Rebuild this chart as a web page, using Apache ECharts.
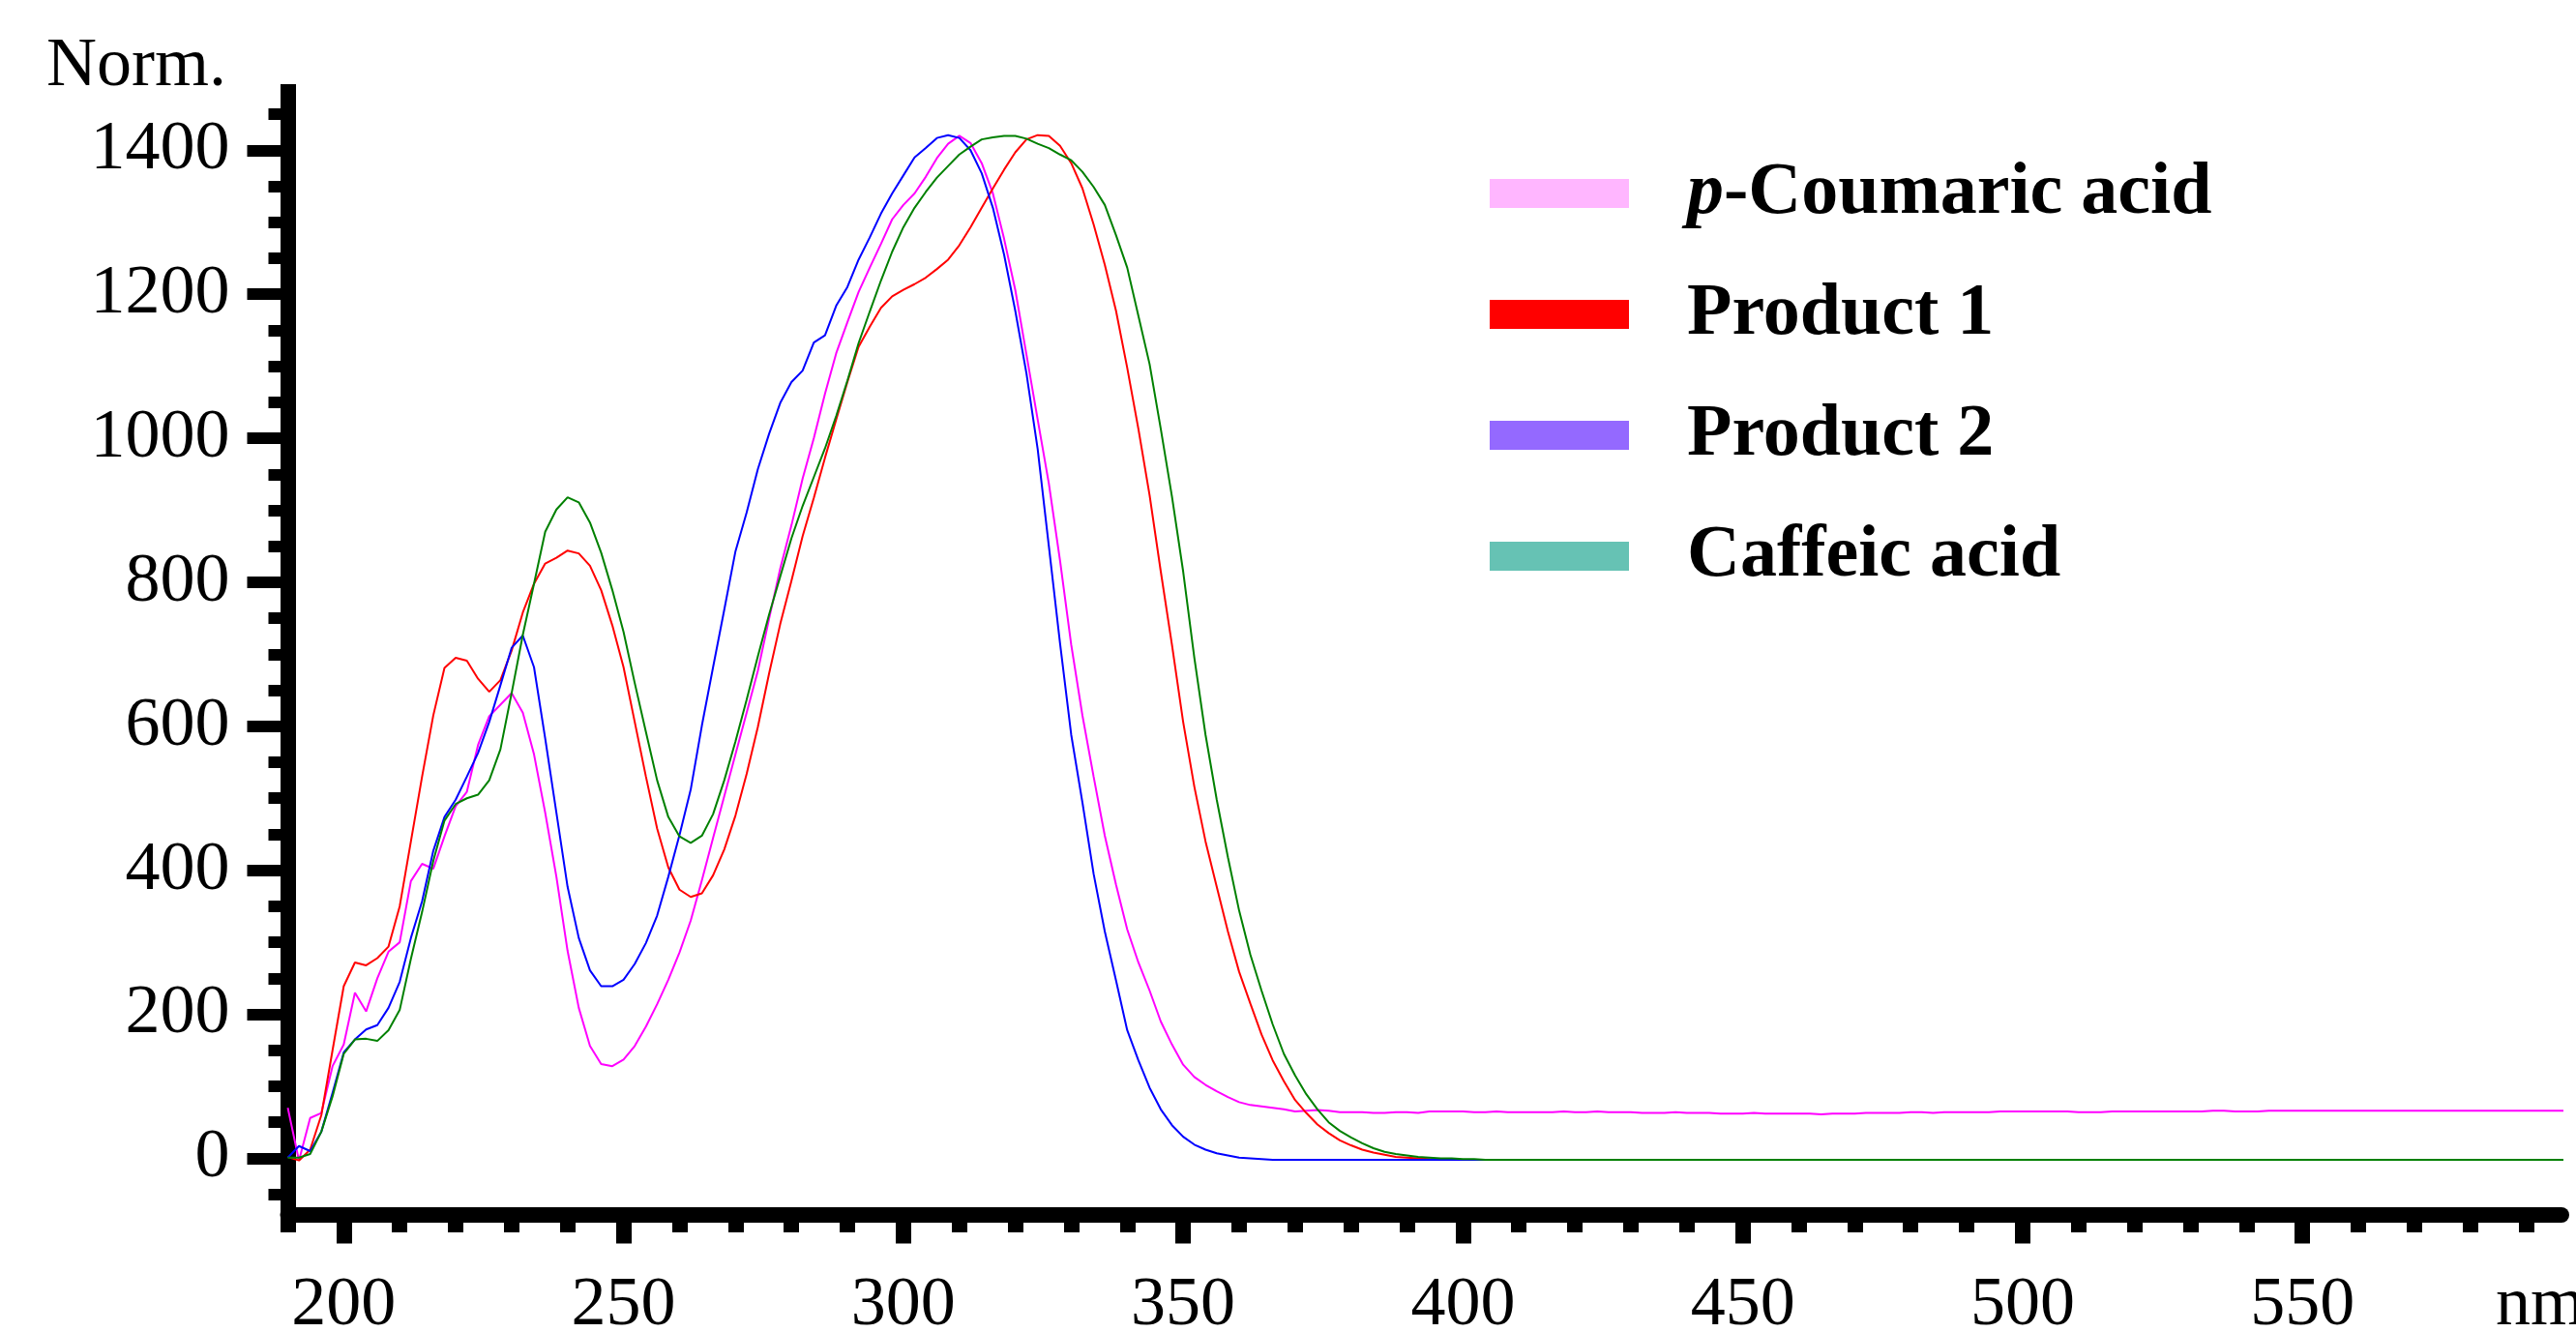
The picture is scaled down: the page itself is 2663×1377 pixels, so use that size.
<!DOCTYPE html>
<html>
<head>
<meta charset="utf-8">
<title>UV spectra</title>
<script src="https://cdn.jsdelivr.net/npm/echarts@6.0.0/dist/echarts.min.js"></script>
<style>
  html, body { margin: 0; padding: 0; background: #fff; }
  #chart { width: 2663px; height: 1377px; }
</style>
</head>
<body>
<div id="chart"></div>
<script>
// wavelength grid, nm (2 nm steps)
const wavelength = [
  190,192,194,196,198,200,202,204,206,208,
  210,212,214,216,218,220,222,224,226,228,
  230,232,234,236,238,240,242,244,246,248,
  250,252,254,256,258,260,262,264,266,268,
  270,272,274,276,278,280,282,284,286,288,
  290,292,294,296,298,300,302,304,306,308,
  310,312,314,316,318,320,322,324,326,328,
  330,332,334,336,338,340,342,344,346,348,
  350,352,354,356,358,360,362,364,366,368,
  370,372,374,376,378,380,382,384,386,388,
  390,392,394,396,398,400,402,404,406,408,
  410,412,414,416,418,420,422,424,426,428,
  430,432,434,436,438,440,442,444,446,448,
  450,452,454,456,458,460,462,464,466,468,
  470,472,474,476,478,480,482,484,486,488,
  490,492,494,496,498,500,502,504,506,508,
  510,512,514,516,518,520,522,524,526,528,
  530,532,534,536,538,540,542,544,546,548,
  550,552,554,556,558,560,562,564,566,568,
  570,572,574,576,578,580,582,584,586,588,
  590,592,594,596,598,600
];

const pCoumaric = [
  70,-3,56,63,128,158,230,204,250,287,
  300,385,409,402,447,489,509,574,614,630,
  646,619,561,480,391,288,209,156,131,128,
  137,156,183,214,248,286,330,386,445,503,
  561,619,677,749,819,879,944,1000,1062,1118,
  1161,1203,1237,1270,1304,1324,1340,1363,1389,1409,
  1420,1410,1382,1340,1277,1206,1116,1026,937,830,
  713,615,530,448,380,318,272,233,190,158,
  130,113,102,93,85,78,74,72,70,68,
  65,66,67,66,64,64,64,63,63,64,
  64,63,65,65,65,65,64,64,65,64,
  64,64,64,64,65,64,64,65,64,64,
  64,63,63,63,64,63,63,63,62,62,
  62,63,62,62,62,62,62,61,62,62,
  62,63,63,63,63,64,64,63,64,64,
  64,64,64,65,65,65,65,65,65,65,
  64,64,64,65,65,65,65,65,65,65,
  65,65,66,66,65,65,65,66,66,66,
  66,66,66,66,66,66,66,66,66,66,
  66,66,66,66,66,66,66,66,66,66,
  66,66,66,66,66,66
];

const product1 = [
  2,-3,12,60,150,239,272,268,278,294,
  350,440,530,615,681,695,691,666,648,664,
  705,758,798,826,834,844,840,823,789,740,
  682,606,530,458,404,373,363,368,393,429,
  476,534,599,673,742,802,864,917,973,1026,
  1078,1127,1155,1181,1197,1206,1214,1223,1235,1248,
  1268,1293,1320,1347,1373,1397,1415,1421,1420,1406,
  1382,1347,1297,1241,1177,1098,1013,921,815,713,
  606,516,440,377,315,259,215,172,136,107,
  81,63,47,35,25,18,12,8,5,2,
  1,0,-1,-1,-2,-2,-2,-2,-2,-2,
  -2,-2,-2,-2,-2,-2,-2,-2,-2,-2,
  -2,-2,-2,-2,-2,-2,-2,-2,-2,-2,
  -2,-2,-2,-2,-2,-2,-2,-2,-2,-2,
  -2,-2,-2,-2,-2,-2,-2,-2,-2,-2,
  -2,-2,-2,-2,-2,-2,-2,-2,-2,-2,
  -2,-2,-2,-2,-2,-2,-2,-2,-2,-2,
  -2,-2,-2,-2,-2,-2,-2,-2,-2,-2,
  -2,-2,-2,-2,-2,-2,-2,-2,-2,-2,
  -2,-2,-2,-2,-2,-2,-2,-2,-2,-2,
  -2,-2,-2,-2,-2,-2
];

const product2 = [
  1,17,10,37,91,147,165,179,185,209,
  245,306,357,427,474,498,530,563,606,657,
  709,726,682,583,480,377,306,261,239,239,
  248,270,299,337,391,449,512,601,682,762,
  843,897,957,1006,1049,1078,1094,1133,1143,1184,
  1210,1248,1279,1312,1340,1365,1390,1403,1417,1421,
  1417,1400,1368,1320,1255,1177,1090,985,850,715,
  588,494,395,315,247,178,136,98,68,46,
  30,19,12,7,4,1,0,-1,-2,-2,
  -2,-2,-2,-2,-2,-2,-2,-2,-2,-2,
  -2,-2,-2,-2,-2,-2,-2,-2,-2,-2,
  -2,-2,-2,-2,-2,-2,-2,-2,-2,-2,
  -2,-2,-2,-2,-2,-2,-2,-2,-2,-2,
  -2,-2,-2,-2,-2,-2,-2,-2,-2,-2,
  -2,-2,-2,-2,-2,-2,-2,-2,-2,-2,
  -2,-2,-2,-2,-2,-2,-2,-2,-2,-2,
  -2,-2,-2,-2,-2,-2,-2,-2,-2,-2,
  -2,-2,-2,-2,-2,-2,-2,-2,-2,-2,
  -2,-2,-2,-2,-2,-2,-2,-2,-2,-2,
  -2,-2,-2,-2,-2,-2,-2,-2,-2,-2,
  -2,-2,-2,-2,-2,-2
];

const caffeic = [
  1,1,6,37,86,145,165,166,163,178,
  206,277,342,413,469,492,500,505,525,568,
  646,727,798,870,901,918,911,883,841,789,
  731,660,592,525,474,447,438,448,478,525,
  579,637,697,755,808,861,906,946,986,1031,
  1080,1132,1176,1219,1259,1293,1320,1342,1362,1378,
  1394,1405,1415,1418,1420,1420,1416,1409,1403,1394,
  1386,1370,1349,1324,1282,1237,1170,1103,1013,919,
  815,695,588,498,418,344,283,233,186,145,
  115,89,68,50,38,29,21,14,9,6,
  4,2,1,0,0,-1,-1,-2,-2,-2,
  -2,-2,-2,-2,-2,-2,-2,-2,-2,-2,
  -2,-2,-2,-2,-2,-2,-2,-2,-2,-2,
  -2,-2,-2,-2,-2,-2,-2,-2,-2,-2,
  -2,-2,-2,-2,-2,-2,-2,-2,-2,-2,
  -2,-2,-2,-2,-2,-2,-2,-2,-2,-2,
  -2,-2,-2,-2,-2,-2,-2,-2,-2,-2,
  -2,-2,-2,-2,-2,-2,-2,-2,-2,-2,
  -2,-2,-2,-2,-2,-2,-2,-2,-2,-2,
  -2,-2,-2,-2,-2,-2,-2,-2,-2,-2,
  -2,-2,-2,-2,-2,-2
];

const xMajorTicks = [200, 250, 300, 350, 400, 450, 500, 550];
const xMinorTicks = [190, 210, 220, 230, 240, 260, 270, 280, 290, 310, 320, 330, 340,
  360, 370, 380, 390, 410, 420, 430, 440, 460, 470, 480, 490, 510, 520, 530, 540,
  560, 570, 580, 590];
const yMajorTicks = [0, 200, 400, 600, 800, 1000, 1200, 1400];
const yMinorTicks = [-50, 50, 100, 150, 250, 300, 350, 450, 500, 550, 650, 700, 750,
  850, 900, 950, 1050, 1100, 1150, 1250, 1300, 1350, 1450];

const seriesNames = ['p-Coumaric acid', 'Product 1', 'Product 2', 'Caffeic acid'];
const seriesValues = [pCoumaric, product1, product2, caffeic];
const lineColors = ['#ff00ff', '#ff0000', '#0000ff', '#008000'];
const legendColors = ['#ffb6ff', '#ff0000', '#9469ff', '#66c2b4'];

const FONT = 'Liberation Serif';
const X_MIN = 190, X_MAX = 596.3, Y_MIN = -78, Y_MAX = 1481;

const chart = echarts.init(document.getElementById('chart'));

const textBase = { fontFamily: FONT, fontSize: 72, color: '#000', fontWeight: 'normal' };
const boldText = { fontFamily: FONT, fontSize: 76, color: '#000', fontWeight: 'bold' };

// plain numbers, no thousands separator
const plainNumber = v => String(v);

const option = {
  animation: false,
  backgroundColor: '#fff',
  title: [
    { text: 'Norm.', left: 48, top: 33, padding: 0, textStyle: textBase },
    { text: 'nm', left: 2580, top: 1314, padding: 0, textStyle: textBase }
  ],
  legend: {
    orient: 'vertical',
    left: 1540,
    top: 162,
    padding: 0,
    itemGap: 49,
    icon: 'rect',
    itemWidth: 144,
    itemHeight: 30,
    selectedMode: false,
    itemStyle: { borderWidth: 0 },
    data: seriesNames.map((n, i) => ({ name: n, itemStyle: { color: legendColors[i] } })),
    formatter: function (name) {
      if (name.indexOf('p-') === 0) {
        return '{gap|}{it|p}{b|' + name.slice(1) + '}';
      }
      return '{gap|}{b|' + name + '}';
    },
    textStyle: {
      rich: {
        gap: { width: 55 },
        it: Object.assign({ fontStyle: 'italic' }, boldText),
        b: boldText
      }
    }
  },
  grid: {
    left: 297.5, right: 15, top: 95, bottom: 121.5,
    containLabel: false,
    outerBoundsMode: 'none'
  },
  xAxis: [
    {
      type: 'value', min: X_MIN, max: X_MAX, position: 'bottom',
      axisLine: { show: true, onZero: false, lineStyle: { color: '#000', width: 16 } },
      axisTick: { show: true, customValues: xMajorTicks, length: 30, lineStyle: { color: '#000', width: 16 } },
      axisLabel: Object.assign({ show: true, customValues: xMajorTicks, margin: 59, formatter: plainNumber }, textBase),
      splitLine: { show: false }
    },
    {
      type: 'value', min: X_MIN, max: X_MAX, position: 'bottom',
      axisLine: { show: false, onZero: false },
      axisTick: { show: true, customValues: xMinorTicks, length: 18.5, lineStyle: { color: '#000', width: 16 } },
      axisLabel: { show: false },
      splitLine: { show: false }
    }
  ],
  yAxis: [
    {
      type: 'value', min: Y_MIN, max: Y_MAX, position: 'left',
      axisLine: { show: true, onZero: false, lineStyle: { color: '#000', width: 16, cap: 'square' } },
      axisTick: { show: true, customValues: yMajorTicks, length: 42, lineStyle: { color: '#000', width: 12 } },
      axisLabel: Object.assign({ show: true, customValues: yMajorTicks, margin: 60, formatter: plainNumber }, textBase),
      splitLine: { show: false }
    },
    {
      type: 'value', min: Y_MIN, max: Y_MAX, position: 'left',
      axisLine: { show: false, onZero: false },
      axisTick: { show: true, customValues: yMinorTicks, length: 20, lineStyle: { color: '#000', width: 12 } },
      axisLabel: { show: false },
      splitLine: { show: false }
    }
  ],
  series: seriesNames.map((name, i) => ({
    name: name,
    type: 'line',
    xAxisIndex: 0,
    yAxisIndex: 0,
    showSymbol: false,
    symbol: 'none',
    clip: false,
    silent: true,
    lineStyle: { color: lineColors[i], width: 2 },
    itemStyle: { color: lineColors[i] },
    data: wavelength.map((w, j) => [w, seriesValues[i][j]])
  }))
};

chart.setOption(option);
</script>
</body>
</html>
